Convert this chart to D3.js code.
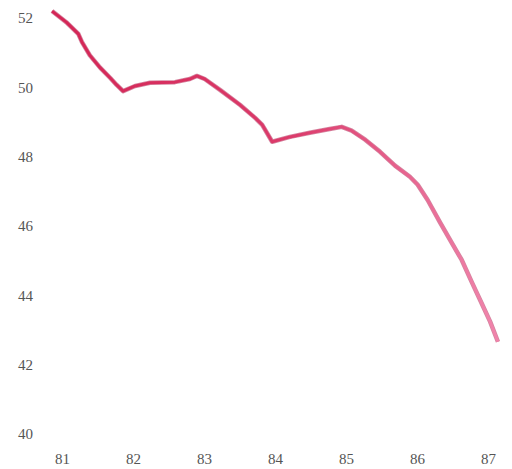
<!DOCTYPE html>
<html>
<head>
<meta charset="utf-8">
<script src="https://d3js.org/d3.v7.min.js"></script>
<style>
  body { margin: 0; background: #fff; }
  svg { display: block; }
  .axis text { font-family: "Liberation Serif", "DejaVu Serif", serif; font-size: 15px; fill: #555; }
</style>
</head>
<body>
<script>
// year (decimal) and value along the curve
const years = [80.86, 81.06, 81.23, 81.28, 81.39, 81.54, 81.68, 81.77, 81.86, 82.03,
  82.24, 82.59, 82.80, 82.90, 83.01, 83.23, 83.51, 83.72, 83.82, 83.96,
  84.21, 84.49, 84.77, 84.94, 85.08, 85.27, 85.48, 85.69, 85.90, 86.01,
  86.15, 86.32, 86.49, 86.63, 86.77, 86.92, 87.03, 87.14];
const values = [52.20, 51.88, 51.54, 51.31, 50.93, 50.56, 50.27, 50.07, 49.89, 50.04,
  50.13, 50.15, 50.24, 50.33, 50.24, 49.92, 49.49, 49.12, 48.92, 48.43,
  48.57, 48.69, 48.80, 48.86, 48.75, 48.49, 48.14, 47.74, 47.42, 47.19,
  46.75, 46.12, 45.51, 45.02, 44.39, 43.73, 43.24, 42.66];
const xTicks = [81, 82, 83, 84, 85, 86, 87];
const yTicks = [40, 42, 44, 46, 48, 50, 52];

const width = 512, height = 469;
const svg = d3.select("body").append("svg").attr("width", width).attr("height", height);

const x = d3.scaleLinear().domain([81, 87]).range([62, 488]);
const y = d3.scaleLinear().domain([40, 52]).range([434, 18]);

svg.append("g").attr("class", "axis")
  .attr("transform", "translate(36,0)")
  .call(d3.axisLeft(y).tickValues(yTicks).tickSize(0).tickPadding(3))
  .call(g => g.select(".domain").remove());

svg.append("g").attr("class", "axis")
  .attr("transform", "translate(0,447)")
  .call(d3.axisBottom(x).tickValues(xTicks).tickSize(0).tickPadding(6).tickFormat(d3.format("d")))
  .call(g => g.select(".domain").remove());

const data = years.map((d, i) => [d, values[i]]);

const grad = svg.append("defs").append("linearGradient")
  .attr("id", "lineGrad").attr("gradientUnits", "userSpaceOnUse")
  .attr("x1", x(81)).attr("x2", x(87)).attr("y1", 0).attr("y2", 0);
grad.append("stop").attr("offset", "0%").attr("stop-color", "#d42656");
grad.append("stop").attr("offset", "55%").attr("stop-color", "#dc3c6c");
grad.append("stop").attr("offset", "100%").attr("stop-color", "#f082aa");

const line = d3.line().x(d => x(d[0])).y(d => y(d[1])).curve(d3.curveLinear);

svg.append("path").datum(data)
  .attr("d", line)
  .attr("fill", "none")
  .attr("stroke", "#b02050")
  .attr("stroke-opacity", 0.55)
  .attr("stroke-width", 4.5)
  .attr("stroke-linejoin", "round");

svg.append("path").datum(data)
  .attr("d", line)
  .attr("fill", "none")
  .attr("stroke", "url(#lineGrad)")
  .attr("stroke-width", 3)
  .attr("stroke-linejoin", "round");
</script>
</body>
</html>
